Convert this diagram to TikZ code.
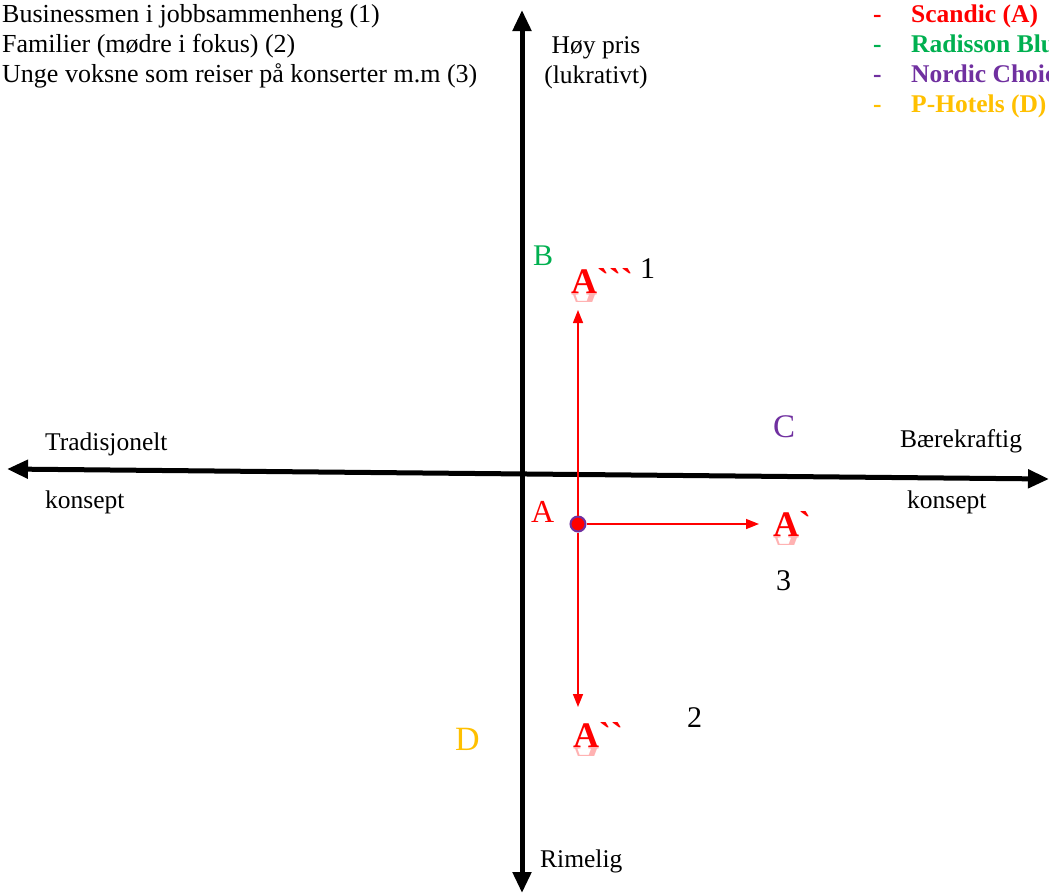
\documentclass[tikz,border=0pt]{standalone}
\usepackage{fontspec}
\setmainfont{Liberation Serif}
% family without TeX ligatures, so that ` stays a plain grave mark
\newfontfamily\markfont{Liberation Serif}
\usetikzlibrary{arrows.meta}

\definecolor{scandicred}{RGB}{255,0,0}
\definecolor{radgreen}{RGB}{0,176,80}
\definecolor{nordicpurple}{RGB}{112,48,160}
\definecolor{photelgold}{RGB}{255,192,0}

\tikzset{
  txt/.style={inner sep=0pt, anchor=base west, font=\fontsize{25.5}{30}\selectfont},
  segtxt/.style={txt, font=\fontsize{26}{30}\selectfont},
  legend/.style={inner sep=0pt, anchor=base west, font=\bfseries\fontsize{25.5}{30}\selectfont},
  letter/.style={inner sep=0pt, anchor=base west, font=\fontsize{#1}{#1}\selectfont},
  bigA/.style={inner sep=0pt, anchor=base west, text=scandicred, font=\markfont\bfseries\fontsize{36}{36}\selectfont},
  num/.style={inner sep=0pt, anchor=base west, font=\fontsize{30}{30}\selectfont},
  axis/.style={line width=5pt, {Triangle[length=21pt,width=18pt]}-{Triangle[length=21pt,width=18pt]}},
  movearrow/.style={draw=scandicred, line width=1.5pt, -{Triangle[length=13pt,width=10pt]}},
}

% faded mirror image under a bold A
\newcommand{\mirrorA}[2]{%
  \begin{scope}
    \clip (#1-2,#2) rectangle (#1+32,#2+8);
    \node[bigA, yscale=-1, transform shape, opacity=.3] at (#1,#2) {A};
  \end{scope}}

\begin{document}
\begin{tikzpicture}[x=1pt, y=-1pt]
\useasboundingbox (0,0) rectangle (1049,895);
\fill[white] (0,0) rectangle (1049,895);

% axes
\coordinate (axT) at (522,10);
\coordinate (axB) at (522,893);
\coordinate (axL) at (7,469);
\coordinate (axR) at (1049,479);
\draw[axis] (axB) -- (axT);
\draw[axis] (axL) -- (axR);

% segments
\node[segtxt] (seg1) at (2,22) {Businessmen i jobbsammenheng (1)};
\node[segtxt] (seg2) at (2,52) {Familier (mødre i fokus) (2)};
\node[segtxt] (seg3) at (2,82) {Unge voksne som reiser på konserter m.m (3)};

% hotel chains
\node[legend, text=scandicred]   (d1) at (873,22)  {-};
\node[legend, text=scandicred]   (l1) at (911,22)  {Scandic (A)};
\node[legend, text=radgreen]     (d2) at (873,52)  {-};
\node[legend, text=radgreen]     (l2) at (911,52)  {Radisson Blu (B)};
\node[legend, text=nordicpurple] (d3) at (873,82)  {-};
\node[legend, text=nordicpurple] (l3) at (911,82)  {Nordic Choice (C)};
\node[legend, text=photelgold]   (d4) at (873,112) {-};
\node[legend, text=photelgold]   (l4) at (911,112) {P-Hotels (D)};

% axis labels
\node[txt, anchor=base] (hi1) at (596,53) {Høy pris};
\node[txt, anchor=base] (hi2) at (596,83) {(lukrativt)};
\node[txt] (lo) at (540,867) {Rimelig};
\node[txt] (left1) at (45,450) {Tradisjonelt};
\node[txt] (left2) at (45,508) {konsept};
\node[txt] (right1) at (900,447) {Bærekraftig};
\node[txt] (right2) at (907,508) {konsept};

% chain positions
\node[letter=30, text=radgreen] (B) at (533,265) {B};
\node[letter=33, text=nordicpurple] (C) at (773,437) {C};
\node[letter=34, text=photelgold] (D) at (455,750) {D};
\node[letter=32, text=scandicred] (A) at (531,522) {A};

% Scandic today and its possible moves
\node[circle, fill=scandicred, draw=nordicpurple, line width=2pt, minimum size=15pt, inner sep=0pt] (dot) at (578,524) {};
\coordinate (upTip) at (578,310);
\coordinate (downTip) at (578,707);
\coordinate (rightTip) at (759,524);
\draw[movearrow] (dot) -- (upTip);
\draw[movearrow] (dot) -- (downTip);
\draw[movearrow] (dot) -- (rightTip);

\node[bigA] (A3) at (571,293) {A```};
\mirrorA{571}{293}
\node[bigA] (A1) at (773,536) {A`};
\mirrorA{773}{536}
\node[bigA] (A2) at (573,747) {A``};
\mirrorA{573}{747}

\node[num] (n1) at (640,278) {1};
\node[num] (n3) at (776,590) {3};
\node[num] (n2) at (687,727) {2};
\end{tikzpicture}
\end{document}
